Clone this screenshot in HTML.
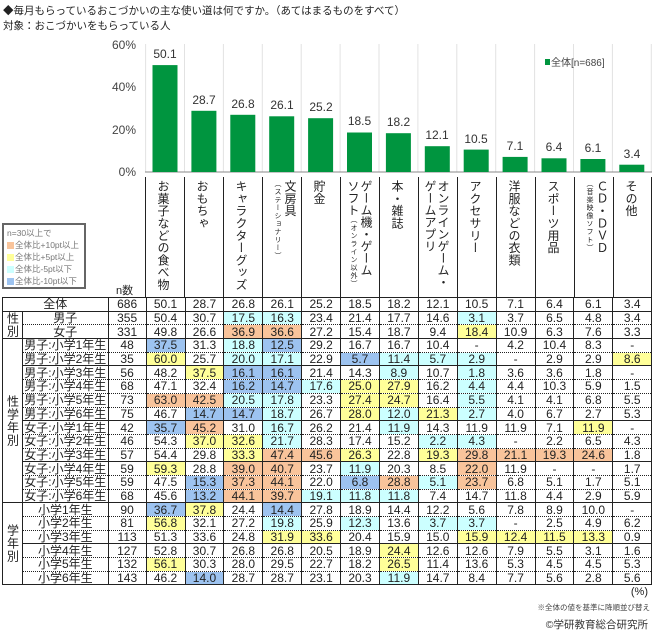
<!DOCTYPE html>
<html><head><meta charset="utf-8">
<style>
*{margin:0;padding:0;box-sizing:border-box}
body{width:654px;height:634px;background:#fff;position:relative;overflow:hidden;font-family:"Liberation Sans","Noto Sans CJK JP",sans-serif;color:#222}
.t{position:absolute;white-space:nowrap}
.hd{position:absolute;top:177px;height:120px;border-left:1px solid #222;}
.vt{position:absolute;top:3px;writing-mode:vertical-rl;text-orientation:upright;font-size:12px;line-height:13px;letter-spacing:0.3px}
.vt small{font-size:7px;line-height:9px;letter-spacing:1px}
table{position:absolute;left:2px;top:297px;border-collapse:collapse;table-layout:fixed;width:650px;font-size:12px}
td{padding:0;height:13.7px;line-height:12px;text-align:center;border-left:1px solid #222;border-right:1px solid #222;border-top:1px dotted #222;border-bottom:1px dotted #222;overflow:hidden;white-space:nowrap}
tr.s td{border-top:1px solid #222}
td.g{border-top:1px solid #222;border-bottom:1px solid #222;writing-mode:vertical-rl;text-orientation:upright;font-size:12px;letter-spacing:1px}
.o{background:#F9C49B}.y{background:#FFFF99}.c{background:#CCFFFF}.b{background:#9DC3F0}
.lg{position:absolute;left:2px;top:223px;width:84px;height:66px;border:2px solid #666;font-size:8.5px;color:#777;line-height:12px;padding:2px 0 0 3px}
.lg i{display:inline-block;width:7px;height:7px;margin-right:1px;vertical-align:-1px}
</style></head><body>
<div class="t" style="left:3px;top:3px;font-size:10.5px">◆毎月もらっているおこづかいの主な使い道は何ですか。（あてはまるものをすべて）</div>
<div class="t" style="left:3px;top:18px;font-size:10.5px">対象：おこづかいをもらっている人</div>

<svg width="654" height="180" style="position:absolute;left:0;top:0">
<g stroke="#e2e2e2" stroke-width="1">
<line x1="145.6" y1="44" x2="145.6" y2="172"/><line x1="184.5" y1="44" x2="184.5" y2="172"/><line x1="223.4" y1="44" x2="223.4" y2="172"/><line x1="262.3" y1="44" x2="262.3" y2="172"/><line x1="301.2" y1="44" x2="301.2" y2="172"/><line x1="340.1" y1="44" x2="340.1" y2="172"/><line x1="379" y1="44" x2="379" y2="172"/><line x1="417.9" y1="44" x2="417.9" y2="172"/><line x1="456.8" y1="44" x2="456.8" y2="172"/><line x1="495.7" y1="44" x2="495.7" y2="172"/><line x1="534.6" y1="44" x2="534.6" y2="172"/><line x1="573.5" y1="44" x2="573.5" y2="172"/><line x1="612.4" y1="44" x2="612.4" y2="172"/><line x1="651.3" y1="44" x2="651.3" y2="172"/>
</g>
<line x1="145" y1="172" x2="652" y2="172" stroke="#888"/>
<g font-size="12" fill="#444" text-anchor="end" font-family="Liberation Sans">
<text x="136" y="49">60%</text><text x="136" y="91">40%</text><text x="136" y="134">20%</text><text x="136" y="176">0%</text></g>
<g fill="#00953F">
<rect x="152.5" y="65.1" width="25" height="106.9"/>
<rect x="191.4" y="110.8" width="25" height="61.2"/>
<rect x="230.3" y="114.8" width="25" height="57.2"/>
<rect x="269.2" y="116.3" width="25" height="55.7"/>
<rect x="308.1" y="118.2" width="25" height="53.8"/>
<rect x="347" y="132.5" width="25" height="39.5"/>
<rect x="385.9" y="133.2" width="25" height="38.8"/>
<rect x="424.8" y="146.2" width="25" height="25.8"/>
<rect x="463.7" y="149.6" width="25" height="22.4"/>
<rect x="502.6" y="156.9" width="25" height="15.1"/>
<rect x="541.5" y="158.3" width="25" height="13.7"/>
<rect x="580.4" y="159" width="25" height="13"/>
<rect x="619.3" y="164.7" width="25" height="7.3"/>
</g>
<g font-size="12" fill="#333" text-anchor="middle" font-family="Liberation Sans">
<text x="165" y="58">50.1</text><text x="204" y="104">28.7</text><text x="243" y="108">26.8</text><text x="282" y="109">26.1</text><text x="321" y="111">25.2</text><text x="359.5" y="125">18.5</text><text x="398.5" y="126">18.2</text><text x="437" y="139">12.1</text><text x="476" y="143">10.5</text><text x="515" y="150">7.1</text><text x="554" y="151">6.4</text><text x="593" y="152">6.1</text><text x="632" y="158">3.4</text>
</g>
<rect x="545" y="59" width="5" height="6" fill="#00953F"/>
<text x="551" y="66" font-size="10" fill="#444" font-family="Liberation Sans,Noto Sans CJK JP">全体[n=686]</text>
</svg>

<div class="lg">n=30以上で<br><i style="background:#F9C49B"></i>全体比+10pt以上<br><i style="background:#FFFF99"></i>全体比+5pt以上<br><i style="background:#CCFFFF"></i>全体比-5pt以下<br><i style="background:#9DC3F0"></i>全体比-10pt以下</div>
<div class="t" style="left:116px;top:282px;font-size:11px">n数</div>

<div class="hd" style="left:145px;width:39px"><div class="vt" style="left:10px">お菓子などの食べ物</div></div>
<div class="hd" style="left:184px;width:39px"><div class="vt" style="left:10px">おもちゃ</div></div>
<div class="hd" style="left:223px;width:39px"><div class="vt" style="left:10px">キャラクターグッズ</div></div>
<div class="hd" style="left:262px;width:39px"><div class="vt" style="left:7px">文房具<br><small>（ステーショナリー）</small></div></div>
<div class="hd" style="left:301px;width:39px"><div class="vt" style="left:10px">貯金</div></div>
<div class="hd" style="left:340px;width:39px"><div class="vt" style="left:5px;letter-spacing:0">ゲーム機・ゲーム<br>ソフト<small>（オンライン以外）</small></div></div>
<div class="hd" style="left:379px;width:39px"><div class="vt" style="left:10px">本・雑誌</div></div>
<div class="hd" style="left:418px;width:39px"><div class="vt" style="left:4px;letter-spacing:0">オンラインゲーム・<br>ゲームアプリ</div></div>
<div class="hd" style="left:457px;width:39px"><div class="vt" style="left:10px">アクセサリー</div></div>
<div class="hd" style="left:496px;width:39px"><div class="vt" style="left:10px">洋服などの衣類</div></div>
<div class="hd" style="left:535px;width:39px"><div class="vt" style="left:10px">スポーツ用品</div></div>
<div class="hd" style="left:574px;width:39px"><div class="vt" style="left:7px">ＣＤ・ＤＶＤ<br><small>（音楽映像ソフト）</small></div></div>
<div class="hd" style="left:613px;width:39px;border-right:1px solid #222"><div class="vt" style="left:10px">その他</div></div>

<table>
<colgroup><col style="width:20px"><col style="width:85.6px"><col style="width:38px"><col span="13" style="width:38.9px"></colgroup>
<tr class="s"><td colspan="2">全体</td><td>686</td><td>50.1</td><td>28.7</td><td>26.8</td><td>26.1</td><td>25.2</td><td>18.5</td><td>18.2</td><td>12.1</td><td>10.5</td><td>7.1</td><td>6.4</td><td>6.1</td><td>3.4</td></tr>
<tr class="s"><td class="g" rowspan="2">性別</td><td>男子</td><td>355</td><td>50.4</td><td>30.7</td><td class="c">17.5</td><td class="c">16.3</td><td>23.4</td><td>21.4</td><td>17.7</td><td>14.6</td><td class="c">3.1</td><td>3.7</td><td>6.5</td><td>4.8</td><td>3.4</td></tr>
<tr><td>女子</td><td>331</td><td>49.8</td><td>26.6</td><td class="o">36.9</td><td class="o">36.6</td><td>27.2</td><td>15.4</td><td>18.7</td><td>9.4</td><td class="y">18.4</td><td>10.9</td><td>6.3</td><td>7.6</td><td>3.3</td></tr>
<tr class="s"><td class="g" rowspan="12">性学年別</td><td>男子:小学1年生</td><td>48</td><td class="b">37.5</td><td>31.3</td><td class="c">18.8</td><td class="b">12.5</td><td>29.2</td><td>16.7</td><td>16.7</td><td>10.4</td><td>-</td><td>4.2</td><td>10.4</td><td>8.3</td><td>-</td></tr>
<tr><td>男子:小学2年生</td><td>35</td><td class="y">60.0</td><td>25.7</td><td class="c">20.0</td><td class="c">17.1</td><td>22.9</td><td class="b">5.7</td><td class="c">11.4</td><td class="c">5.7</td><td class="c">2.9</td><td>-</td><td>2.9</td><td>2.9</td><td class="y">8.6</td></tr>
<tr class="s"><td>男子:小学3年生</td><td>56</td><td>48.2</td><td class="y">37.5</td><td class="b">16.1</td><td class="b">16.1</td><td>21.4</td><td>14.3</td><td class="c">8.9</td><td>10.7</td><td class="c">1.8</td><td>3.6</td><td>3.6</td><td>1.8</td><td>-</td></tr>
<tr><td>男子:小学4年生</td><td>68</td><td>47.1</td><td>32.4</td><td class="b">16.2</td><td class="b">14.7</td><td class="c">17.6</td><td class="y">25.0</td><td class="y">27.9</td><td>16.2</td><td class="c">4.4</td><td>4.4</td><td>10.3</td><td>5.9</td><td>1.5</td></tr>
<tr><td>男子:小学5年生</td><td>73</td><td class="o">63.0</td><td class="o">42.5</td><td class="c">20.5</td><td class="c">17.8</td><td>23.3</td><td class="y">27.4</td><td class="y">24.7</td><td>16.4</td><td class="c">5.5</td><td>4.1</td><td>4.1</td><td>6.8</td><td>5.5</td></tr>
<tr><td>男子:小学6年生</td><td>75</td><td>46.7</td><td class="b">14.7</td><td class="b">14.7</td><td class="c">18.7</td><td>26.7</td><td class="y">28.0</td><td class="c">12.0</td><td class="y">21.3</td><td class="c">2.7</td><td>4.0</td><td>6.7</td><td>2.7</td><td>5.3</td></tr>
<tr class="s"><td>女子:小学1年生</td><td>42</td><td class="b">35.7</td><td class="o">45.2</td><td>31.0</td><td class="c">16.7</td><td>26.2</td><td>21.4</td><td class="c">11.9</td><td>14.3</td><td>11.9</td><td>11.9</td><td>7.1</td><td class="y">11.9</td><td>-</td></tr>
<tr><td>女子:小学2年生</td><td>46</td><td>54.3</td><td class="y">37.0</td><td class="y">32.6</td><td class="c">21.7</td><td>28.3</td><td>17.4</td><td>15.2</td><td class="c">2.2</td><td class="c">4.3</td><td>-</td><td>2.2</td><td>6.5</td><td>4.3</td></tr>
<tr><td>女子:小学3年生</td><td>57</td><td>54.4</td><td>29.8</td><td class="y">33.3</td><td class="o">47.4</td><td class="o">45.6</td><td class="y">26.3</td><td>22.8</td><td class="y">19.3</td><td class="o">29.8</td><td class="o">21.1</td><td class="o">19.3</td><td class="o">24.6</td><td>1.8</td></tr>
<tr class="s"><td>女子:小学4年生</td><td>59</td><td class="y">59.3</td><td>28.8</td><td class="o">39.0</td><td class="o">40.7</td><td>23.7</td><td class="c">11.9</td><td>20.3</td><td>8.5</td><td class="o">22.0</td><td>11.9</td><td>-</td><td>-</td><td>1.7</td></tr>
<tr><td>女子:小学5年生</td><td>59</td><td>47.5</td><td class="b">15.3</td><td class="o">37.3</td><td class="o">44.1</td><td>22.0</td><td class="b">6.8</td><td class="o">28.8</td><td class="c">5.1</td><td class="o">23.7</td><td>6.8</td><td>5.1</td><td>1.7</td><td>5.1</td></tr>
<tr><td>女子:小学6年生</td><td>68</td><td>45.6</td><td class="b">13.2</td><td class="o">44.1</td><td class="o">39.7</td><td class="c">19.1</td><td class="c">11.8</td><td class="c">11.8</td><td>7.4</td><td>14.7</td><td>11.8</td><td>4.4</td><td>2.9</td><td>5.9</td></tr>
<tr class="s"><td class="g" rowspan="6">学年別</td><td>小学1年生</td><td>90</td><td class="b">36.7</td><td class="y">37.8</td><td>24.4</td><td class="b">14.4</td><td>27.8</td><td>18.9</td><td>14.4</td><td>12.2</td><td>5.6</td><td>7.8</td><td>8.9</td><td>10.0</td><td>-</td></tr>
<tr><td>小学2年生</td><td>81</td><td class="y">56.8</td><td>32.1</td><td>27.2</td><td class="c">19.8</td><td>25.9</td><td class="c">12.3</td><td>13.6</td><td class="c">3.7</td><td class="c">3.7</td><td>-</td><td>2.5</td><td>4.9</td><td>6.2</td></tr>
<tr><td>小学3年生</td><td>113</td><td>51.3</td><td>33.6</td><td>24.8</td><td class="y">31.9</td><td class="y">33.6</td><td>20.4</td><td>15.9</td><td>15.0</td><td class="y">15.9</td><td class="y">12.4</td><td class="y">11.5</td><td class="y">13.3</td><td>0.9</td></tr>
<tr class="s"><td>小学4年生</td><td>127</td><td>52.8</td><td>30.7</td><td>26.8</td><td>26.8</td><td>20.5</td><td>18.9</td><td class="y">24.4</td><td>12.6</td><td>12.6</td><td>7.9</td><td>5.5</td><td>3.1</td><td>1.6</td></tr>
<tr><td>小学5年生</td><td>132</td><td class="y">56.1</td><td>30.3</td><td>28.0</td><td>29.5</td><td>22.7</td><td>18.2</td><td class="y">26.5</td><td>11.4</td><td>13.6</td><td>5.3</td><td>4.5</td><td>4.5</td><td>5.3</td></tr>
<tr style="border-bottom:1px solid #222"><td>小学6年生</td><td>143</td><td>46.2</td><td class="b">14.0</td><td>28.7</td><td>28.7</td><td>23.1</td><td>20.3</td><td class="c">11.9</td><td>14.7</td><td>8.4</td><td>7.7</td><td>5.6</td><td>2.8</td><td>5.6</td></tr>
</table>

<div class="t" style="right:6px;top:586px;font-size:11px">(%)</div>
<div class="t" style="right:4px;top:602px;font-size:7.5px;color:#444">※全体の値を基準に降順並び替え</div>
<div class="t" style="right:6px;top:617px;font-size:10.5px;color:#333">©学研教育総合研究所</div>
</body></html>
